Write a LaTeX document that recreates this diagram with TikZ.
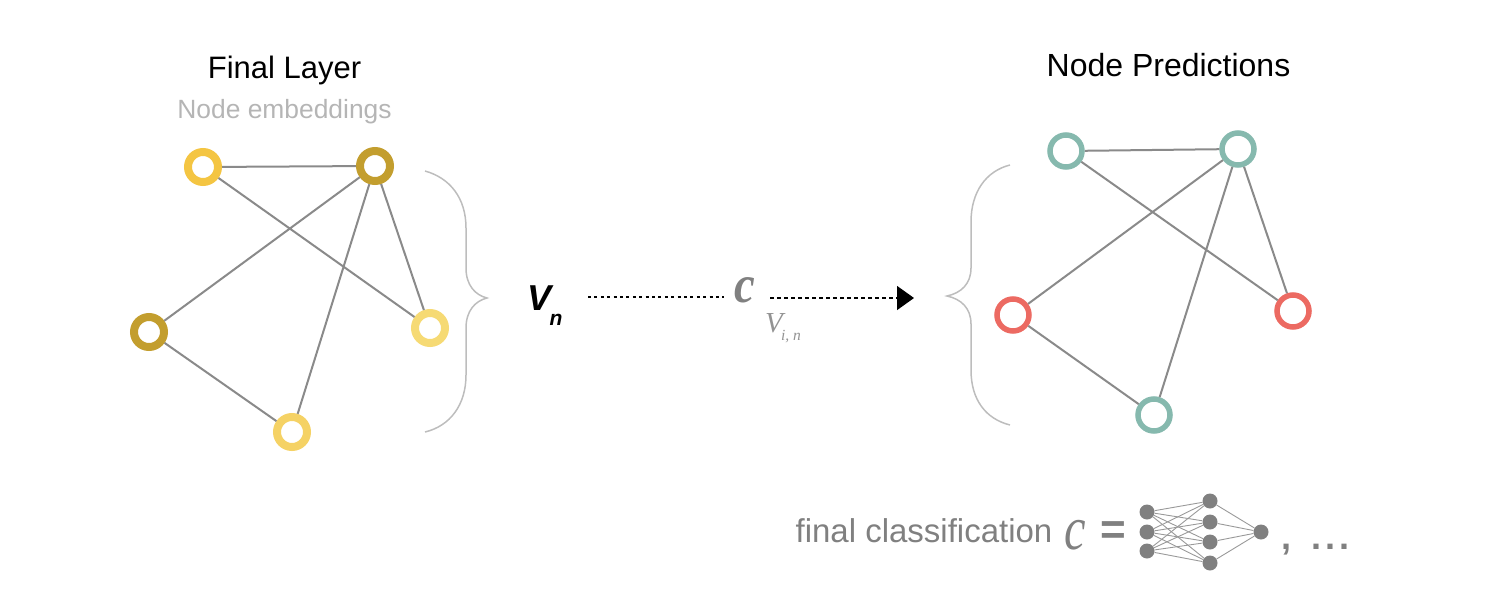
\documentclass[tikz,border=0pt]{standalone}
\usepackage{fontspec}
\usetikzlibrary{arrows.meta}
\setmainfont{Liberation Sans}
\newfontfamily\serifit{Liberation Serif}
\definecolor{edgegray}{HTML}{8A8A8A}
\definecolor{bracegray}{HTML}{BDBDBD}
\definecolor{subgray}{HTML}{B5B5B5}
\definecolor{netgray}{HTML}{808080}
\definecolor{yA}{HTML}{F4C542}
\definecolor{yB}{HTML}{C39E2E}
\definecolor{yC}{HTML}{F6DA74}
\definecolor{yD}{HTML}{F5D265}
\definecolor{teal}{HTML}{86B9AE}
\definecolor{redn}{HTML}{EC6A62}
\tikzset{
  x=1pt,y=-1pt,
  ring/.style={circle,draw=#1,line width=8pt,fill=white,minimum size=30pt,inner sep=0pt},
  ringthin/.style={circle,draw=#1,line width=5.5pt,fill=white,minimum size=32pt,inner sep=0pt},
  edge/.style={draw=edgegray,line width=2pt},
  bracecurve/.style={draw=bracegray,line width=1.5pt},
  flowA/.style={black,line width=1.5pt,dash pattern=on 3pt off 3.4pt},
  flowB/.style={black,line width=1.5pt,dash pattern=on 4pt off 3pt,-{Triangle[length=17pt,width=24pt]}},
  neuron/.style={circle,fill=netgray,minimum size=15pt,inner sep=0pt},
  synapse/.style={draw=netgray!80,line width=0.9pt},
  lbl/.style={inner sep=0pt,anchor=center}
}
\begin{document}
\begin{tikzpicture}
\useasboundingbox (0,0) rectangle (1500,616);
% left graph
\node[ring=yA] (a1) at (203,167) {};
\node[ring=yB] (a2) at (375,166) {};
\node[ring=yB] (a3) at (149,332) {};
\node[ring=yC] (a4) at (430,328) {};
\node[ring=yD] (a5) at (292,432) {};
\path[edge] (a1)--(a2) (a1)--(a4) (a2)--(a3) (a2)--(a4) (a2)--(a5) (a3)--(a5);
% right graph
\node[ringthin=teal] (b1) at (1066,151) {};
\node[ringthin=teal] (b2) at (1238,149) {};
\node[ringthin=redn] (b3) at (1013,315) {};
\node[ringthin=redn] (b4) at (1293,311) {};
\node[ringthin=teal] (b5) at (1154,415) {};
\path[edge] (b1)--(b2) (b1)--(b4) (b2)--(b3) (b2)--(b4) (b2)--(b5) (b3)--(b5);
% braces
\draw[bracecurve] (425,171) .. controls (450,178) and (466,198) .. (466,228)
  -- (466,268) .. controls (466,285) and (475,295) .. (487,298)
  .. controls (475,301) and (466,311) .. (466,328)
  -- (466,375) .. controls (466,405) and (450,426) .. (425,432);
\draw[bracecurve] (1010,165) .. controls (986,171) and (971,192) .. (971,222)
  -- (971,268) .. controls (971,284) and (961,293) .. (947,296)
  .. controls (961,299) and (971,308) .. (971,324)
  -- (971,370) .. controls (971,400) and (986,419) .. (1010,425);
% titles
\node[lbl,font=\fontsize{31}{33}\selectfont] (t1) at (284.5,70) {Final Layer};
\node[lbl,text=subgray,font=\fontsize{26.4}{28}\selectfont] (t2) at (284.5,112) {Node embeddings};
\node[lbl,font=\fontsize{32}{34}\selectfont] (t3) at (1168.5,65) {Node Predictions};
% flow
\node[lbl,font=\fontsize{36}{38}\selectfont\bfseries\itshape] (vn) at (540,298) {V};
\node[lbl,font=\fontsize{21}{22}\selectfont\bfseries\itshape] (vns) at (556,320) {n};
\coordinate (f1) at (588,297);
\coordinate (f2) at (724,297);
\node[lbl,text=netgray,xscale=.88,transform shape,font=\fontsize{53}{55}\selectfont\serifit\bfseries\itshape] (c1) at (745,290) {c};
\coordinate (f3) at (770,298);
\coordinate (f4) at (914,298);
\draw[flowA] (f1)--(f2);
\draw[flowB] (f3)--(f4);
\node[lbl,text=netgray!85,font=\fontsize{29}{30}\selectfont\serifit\itshape] (vi) at (774,323) {V};
\node[lbl,text=netgray!85,font=\fontsize{15.5}{16}\selectfont\serifit\itshape] (vis) at (791,337) {i, n};
% bottom formula
\node[lbl,text=netgray,font=\fontsize{33}{35}\selectfont] (fc) at (924,531) {final classification};
\node[lbl,text=netgray,xscale=.78,transform shape,font=\fontsize{62}{64}\selectfont\serifit\itshape] (c2) at (1075,535) {c};
\node[lbl,text=netgray,font=\fontsize{44}{46}\selectfont\bfseries] (eq) at (1113,533) {=};
\foreach \n/\x/\y in {i1/1147/512,i2/1147/532,i3/1147/551,
  h1/1210/501,h2/1210/522,h3/1210/542,h4/1210/563,o1/1261/532}{
  \node[neuron] (\n) at (\x,\y) {};
}
\foreach \i in {i1,i2,i3}{\foreach \h in {h1,h2,h3,h4}{\draw[synapse] (\i)--(\h);}}
\foreach \h in {h1,h2,h3,h4}{\draw[synapse] (\h)--(o1);}
\node[inner sep=0pt,anchor=base west,text=netgray,font=\fontsize{36}{38}\selectfont\bfseries] (dots) at (1281,549) {,\kern 20pt.\kern 4pt.\kern 4pt.};
\end{tikzpicture}
\end{document}
